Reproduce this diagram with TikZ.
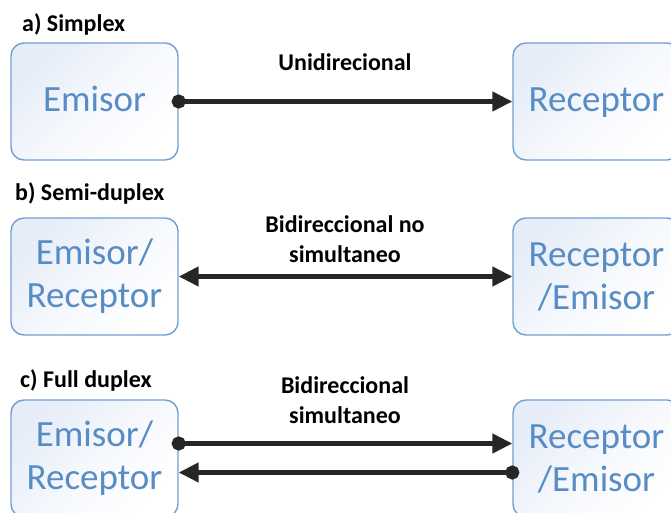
\documentclass[tikz,border=0pt]{standalone}
\usepackage{fontspec}
\setmainfont{Carlito}
\usetikzlibrary{arrows.meta}

\definecolor{boxtext}{RGB}{88,140,196}
\definecolor{boxline}{RGB}{112,160,210}
\definecolor{boxshade}{RGB}{230,237,248}
\definecolor{wire}{RGB}{38,38,38}

\tikzset{
  unit/.style={rectangle, rounded corners=13pt, draw=boxline, line width=1.4pt,
    top color=boxshade, bottom color=white, middle color=white!60!boxshade,
    shading angle=45,
    minimum width=167pt, minimum height=117pt, inner sep=0pt,
    align=center, text=boxtext, font=\fontsize{37}{43}\selectfont},
  oneline/.style={text height=25pt, text depth=4pt},
  caption/.style={font=\bfseries\fontsize{24}{30}\selectfont, text=black,
    inner sep=0pt, align=center},
  link/.style={draw=wire, line width=4.5pt},
  dottip/.style={{Circle[length=14pt]}-{Triangle[length=20pt,width=19pt]},
    shorten <=-7pt},
  bothtip/.style={{Triangle[length=20pt,width=19pt]}-{Triangle[length=20pt,width=19pt]}},
}

\begin{document}
\begin{tikzpicture}[x=1pt,y=-1pt]
\useasboundingbox (0,0) rectangle (671,513);
\clip (0,0) rectangle (671,513);

% a) simplex
\node[caption, anchor=base west] (ta) at (22,32) {a) Simplex};
\node[unit, oneline] (L1) at (94.5,101.5) {Emisor};
\node[unit, oneline] (R1) at (596.5,101.5) {Receptor};
\node[caption, anchor=base] (ma) at (345,71) {Unidirecional};
\draw[link, dottip] (L1.east) -- (R1.west);

% b) semi-duplex
\node[caption, anchor=base west] (tb) at (15,200) {b) Semi-duplex};
\node[unit] (L2) at (94.5,276.5) {Emisor/\\Receptor};
\node[unit] (R2) at (596.5,276.5) {Receptor\\/Emisor};
\node[caption, anchor=base] (mb) at (345,262) {Bidireccional no\\simultaneo};
\draw[link, bothtip] (L2.east) -- (R2.west);

% c) full duplex
\node[caption, anchor=base west] (tc) at (20,387) {c) Full duplex};
\node[unit] (L3) at (94.5,458.5) {Emisor/\\Receptor};
\node[unit] (R3) at (596.5,458.5) {Receptor\\/Emisor};
\node[caption, anchor=base] (mc) at (345,423) {Bidireccional\\simultaneo};
\draw[link, dottip] ([yshift=15pt]L3.east) -- ([yshift=15pt]R3.west);
\draw[link, dottip] ([yshift=-14pt]R3.west) -- ([yshift=-14pt]L3.east);
\end{tikzpicture}
\end{document}
